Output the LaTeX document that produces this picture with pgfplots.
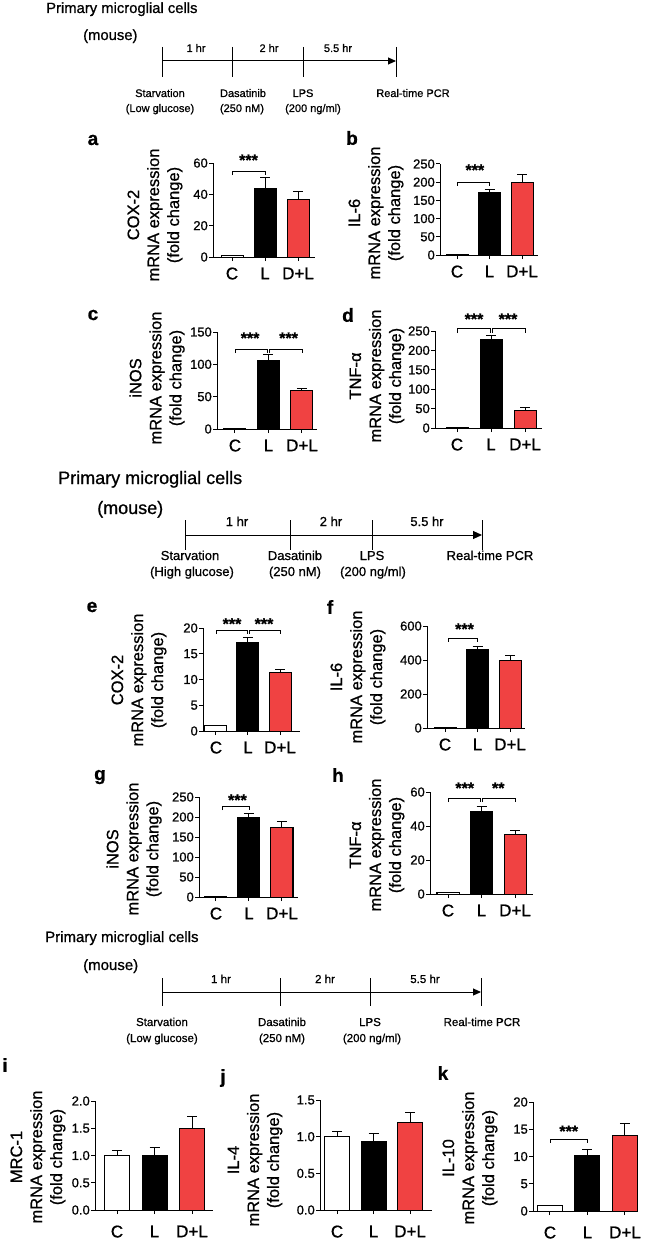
\documentclass[border=0pt]{standalone}
\usepackage{fontspec}
\setmainfont{Liberation Sans}[FakeBold=0.8]
\usepackage{pgfplots}
\pgfplotsset{compat=1.18}
\usetikzlibrary{arrows.meta}
\definecolor{dlred}{RGB}{240,66,66}

\pgfplotsset{
  panel/.style={
    scale only axis, anchor=south west, clip=false,
    axis x line*=bottom, axis y line*=left,
    ymin=0, xtick={0,1,2}, xticklabels={C,L,D+L},
    tick align=outside, major tick length=4pt,
    every tick/.append style={black, line width=1pt},
    axis line style={line width=1pt, black, -},
    xticklabel style={font=\fontsize{17}{17}\selectfont, yshift=-3pt},
    yticklabel style={font=\fontsize{13}{13}\selectfont, inner sep=1pt},
    /pgf/number format/assume math mode=true,
  },
  cbar/.style={ybar, bar shift=0pt, bar width=#1, fill=white, draw=black, line width=1pt},
  lbar/.style={ybar, bar shift=0pt, bar width=#1, fill=black, draw=black, line width=1pt},
  dbar/.style={ybar, bar shift=0pt, bar width=#1, fill=dlred, draw=black, line width=1pt},
  eb/.style={error bars/y dir=plus, error bars/y explicit,
    error bars/error bar style={line width=1pt, black},
    error bars/error mark options={rotate=90, mark size=5pt, line width=1pt, black}},
}
\newcommand{\brk}[4]{\draw[line width=0.9pt] (axis cs:#1,#4) -- (axis cs:#1,#3) -- (axis cs:#2,#3) -- (axis cs:#2,#4);}
\newcommand{\stars}[3]{\node[font=\fontsize{16}{16}\bfseries\selectfont, inner sep=0pt, yshift=-3pt] at (axis cs:#1,#2) {#3};}

\begin{document}
\begin{tikzpicture}
\useasboundingbox (0pt,0pt) rectangle (645pt,-1241pt);
\begin{scope}[x=1pt,y=-1pt]
% ---------- timeline 1
\node[anchor=base west, font=\fontsize{14.8}{15}\selectfont, inner sep=0] at (46,13) {Primary microglial cells};
\node[anchor=base west, font=\fontsize{14.8}{15}\selectfont, inner sep=0] at (83,40) {(mouse)};
\draw[line width=1pt, -{Triangle[length=8pt,width=7pt]}] (162,61) -- (396,61);
\foreach \t in {162,232,303,396} \draw[line width=1pt] (\t,47) -- (\t,77);
\begin{scope}[every node/.style={anchor=base, font=\fontsize{11}{11}\selectfont, inner sep=0}]
\node at (196,52) {1 hr}; \node at (269,52) {2 hr}; \node at (338,52) {5.5 hr};
\node at (160,97) {Starvation}; \node at (160,112) {(Low glucose)};
\node at (243,97) {Dasatinib}; \node at (242,112) {(250 nM)};
\node at (303,97) {LPS}; \node at (313,112) {(200 ng/ml)};
\node at (413,97) {Real-time PCR};
\end{scope}
% ---------- timeline 2
\node[anchor=base west, font=\fontsize{18}{18}\selectfont, inner sep=0] at (58,484) {Primary microglial cells};
\node[anchor=base west, font=\fontsize{18}{18}\selectfont, inner sep=0] at (97,514) {(mouse)};
\draw[line width=1pt, -{Triangle[length=9pt,width=8pt]}] (185,535) -- (482,535);
\foreach \t in {185,290,372,482} \draw[line width=1pt] (\t,520) -- (\t,550);
\begin{scope}[every node/.style={anchor=base, font=\fontsize{13}{13}\selectfont, inner sep=0}]
\node at (237,526) {1 hr}; \node at (331,526) {2 hr}; \node at (427,526) {5.5 hr};
\node at (190,560) {Starvation}; \node at (192,576) {(High glucose)};
\node at (295,560) {Dasatinib}; \node at (295,576) {(250 nM)};
\node at (372,560) {LPS}; \node at (373,576) {(200 ng/ml)};
\node at (490,560) {Real-time PCR};
\end{scope}
% ---------- timeline 3
\node[anchor=base west, font=\fontsize{15}{15}\selectfont, inner sep=0] at (45,942) {Primary microglial cells};
\node[anchor=base west, font=\fontsize{15}{15}\selectfont, inner sep=0] at (83,970) {(mouse)};
\draw[line width=1pt, -{Triangle[length=8pt,width=7pt]}] (162,992) -- (481,992);
\foreach \t in {162,280,370,481} \draw[line width=1pt] (\t,978) -- (\t,1006);
\begin{scope}[every node/.style={anchor=base, font=\fontsize{11.5}{11.5}\selectfont, inner sep=0}]
\node at (221,983) {1 hr}; \node at (325,983) {2 hr}; \node at (425,983) {5.5 hr};
\node at (162,1026) {Starvation}; \node at (162,1042) {(Low glucose)};
\node at (282,1026) {Dasatinib}; \node at (282,1042) {(250 nM)};
\node at (370,1026) {LPS}; \node at (372,1042) {(200 ng/ml)};
\node at (482,1026) {Real-time PCR};
\end{scope}
% ---------- panel letters
\begin{scope}[every node/.style={font=\fontsize{19}{19}\bfseries\selectfont, inner sep=0}]
\node at (93,140) {a}; \node at (352,138) {b};
\node at (93,315) {c}; \node at (348,315) {d};
\node at (92,607) {e}; \node at (330,607) {f};
\node at (100,777) {g}; \node at (338,775) {h};
\node at (5,1065) {i}; \node at (223,1078) {j}; \node at (443,1073) {k};
\end{scope}
% ---------- y labels
\begin{scope}[every node/.style={rotate=90, align=center, font=\fontsize{16.5}{20}\selectfont, inner sep=0}]
\node at (155,215) {COX-2\\mRNA expression\\(fold change)};
\node at (376,213) {IL-6\\mRNA expression\\(fold change)};
\node at (157,378) {iNOS\\mRNA expression\\(fold change)};
\node at (377,376) {TNF-α\\mRNA expression\\(fold change)};
\node at (139,680) {COX-2\\mRNA expression\\(fold change)};
\node at (358,677) {IL-6\\mRNA expression\\(fold change)};
\node at (134,849) {iNOS\\mRNA expression\\(fold change)};
\node at (377,845) {TNF-α\\mRNA expression\\(fold change)};
\node at (38,1157) {MRC-1\\mRNA expression\\(fold change)};
\node at (255,1160) {IL-4\\mRNA expression\\(fold change)};
\node at (470,1158) {IL-10\\mRNA expression\\(fold change)};
\end{scope}
\end{scope}

% ---------- a
\begin{axis}[panel, at={(213pt,-257pt)}, width=102pt, height=94pt, xmin=-0.576, xmax=2.515, ymax=60, ytick={0,20,40,60}]
\addplot[cbar=22pt] coordinates {(0,1)};
\addplot[lbar=22pt, eb] coordinates {(1,43.5) +- (0,7)};
\addplot[dbar=22pt, eb] coordinates {(2,37) +- (0,5)};
\brk{0}{1}{54.9}{52.3}
\stars{0.5}{63.8}{***}
\end{axis}
% ---------- b
\begin{axis}[panel, at={(440pt,-255pt)}, width=98pt, height=91pt, xmin=-0.523, xmax=2.492, ymax=250, ytick={0,50,...,250}]
\addplot[cbar=22pt] coordinates {(0,0.5)};
\addplot[lbar=22pt, eb] coordinates {(1,172) +- (0,8)};
\addplot[dbar=22pt, eb] coordinates {(2,198) +- (0,22)};
\brk{0}{1}{200.5}{189.6}
\stars{0.55}{241.8}{***}
\end{axis}
% ---------- c
\begin{axis}[panel, at={(217pt,-429pt)}, width=100pt, height=97pt, xmin=-0.537, xmax=2.448, ymax=150, ytick={0,50,100,150}]
\addplot[cbar=22pt] coordinates {(0,1)};
\addplot[lbar=22pt, eb] coordinates {(1,106) +- (0,9)};
\addplot[dbar=22pt, eb] coordinates {(2,59) +- (0,3)};
\brk{0}{0.97}{123.7}{117.5}
\brk{1.03}{2}{123.7}{117.5}
\stars{0.45}{145.3}{***}
\stars{1.6}{145.3}{***}
\end{axis}
% ---------- d
\begin{axis}[panel, at={(435pt,-428pt)}, width=107pt, height=97pt, xmin=-0.647, xmax=2.5, ymax=250, ytick={0,50,...,250}]
\addplot[cbar=22pt] coordinates {(0,2)};
\addplot[lbar=22pt, eb] coordinates {(1,229) +- (0,9)};
\addplot[dbar=22pt, eb] coordinates {(2,46) +- (0,8)};
\brk{0}{0.97}{257.7}{244.8}
\brk{1.03}{2}{257.7}{244.8}
\stars{0.5}{288.6}{***}
\stars{1.5}{288.6}{***}
\end{axis}
% ---------- e
\begin{axis}[panel, at={(203pt,-731pt)}, width=97pt, height=103pt, xmin=-0.406, xmax=2.625, ymax=20, ytick={0,5,...,20}]
\addplot[cbar=22pt] coordinates {(0,1.1)};
\addplot[lbar=22pt, eb] coordinates {(1,17.2) +- (0,1.0)};
\addplot[dbar=22pt, eb] coordinates {(2,11.3) +- (0,0.6)};
\brk{0}{0.97}{19.6}{18.8}
\brk{1.03}{2}{19.6}{18.8}
\stars{0.5}{21.4}{***}
\stars{1.5}{21.4}{***}
\end{axis}
% ---------- f
\begin{axis}[panel, at={(427pt,-728pt)}, width=98pt, height=102pt, xmin=-0.554, xmax=2.46, ymax=600, ytick={0,200,400,600}]
\addplot[cbar=22pt] coordinates {(0,5)};
\addplot[lbar=22pt, eb] coordinates {(1,463) +- (0,18)};
\addplot[dbar=22pt, eb] coordinates {(2,400) +- (0,28)};
\brk{0.1}{1}{529}{506}
\stars{0.6}{600}{***}
\end{axis}
% ---------- g
\begin{axis}[panel, at={(199pt,-897pt)}, width=99pt, height=100pt, xmin=-0.515, xmax=2.485, ymax=250, ytick={0,50,...,250}]
\addplot[cbar=22pt] coordinates {(0,2)};
\addplot[lbar=22pt, eb] coordinates {(1,198) +- (0,10)};
\addplot[dbar=22pt, eb] coordinates {(2,173) +- (0,17)};
\brk{0.2}{1}{227.5}{217.5}
\stars{0.65}{250}{***}
\end{axis}
% ---------- h
\begin{axis}[panel, at={(430pt,-894pt)}, width=103pt, height=102pt, xmin=-0.537, xmax=2.537, ymax=60, ytick={0,20,40,60}]
\addplot[cbar=22pt] coordinates {(0,1)};
\addplot[lbar=22pt, eb] coordinates {(1,48.3) +- (0,3.3)};
\addplot[dbar=22pt, eb] coordinates {(2,35.3) +- (0,2.3)};
\brk{0}{0.97}{56.5}{54.1}
\brk{1.03}{2}{56.5}{54.1}
\stars{0.5}{64.1}{***}
\stars{1.5}{64.1}{**}
\end{axis}
% ---------- i
\begin{axis}[panel, at={(95pt,-1210pt)}, width=118pt, height=109pt, xmin=-0.587, xmax=2.56, ymax=2, ytick={0,0.5,...,2},
  xticklabel style={yshift=-5pt},
  yticklabel style={/pgf/number format/fixed, /pgf/number format/fixed zerofill, /pgf/number format/precision=1}]
\addplot[cbar=25pt, eb] coordinates {(0,1.0) +- (0,0.09)};
\addplot[lbar=25pt, eb] coordinates {(1,1.0) +- (0,0.15)};
\addplot[dbar=25pt, eb] coordinates {(2,1.5) +- (0,0.22)};
\end{axis}
% ---------- j
\begin{axis}[panel, at={(320pt,-1210pt)}, width=112pt, height=110pt, xmin=-0.466, xmax=2.6, ymax=1.5, ytick={0,0.5,...,1.5},
  xticklabel style={yshift=-5pt},
  yticklabel style={/pgf/number format/fixed, /pgf/number format/fixed zerofill, /pgf/number format/precision=1}]
\addplot[cbar=25pt, eb] coordinates {(0,1.0) +- (0,0.07)};
\addplot[lbar=25pt, eb] coordinates {(1,0.93) +- (0,0.11)};
\addplot[dbar=25pt, eb] coordinates {(2,1.19) +- (0,0.14)};
\end{axis}
% ---------- k
\begin{axis}[panel, at={(533pt,-1211pt)}, width=105pt, height=109pt, xmin=-0.453, xmax=2.347, ymax=20, ytick={0,5,...,20},
  xticklabel style={yshift=-5pt}]
\addplot[cbar=25pt] coordinates {(0,1)};
\addplot[lbar=25pt, eb] coordinates {(1,10.2) +- (0,1)};
\addplot[dbar=25pt, eb] coordinates {(2,13.9) +- (0,2.1)};
\brk{0}{1}{13.2}{12.5}
\stars{0.5}{15.2}{***}
\end{axis}
\end{tikzpicture}
\end{document}
